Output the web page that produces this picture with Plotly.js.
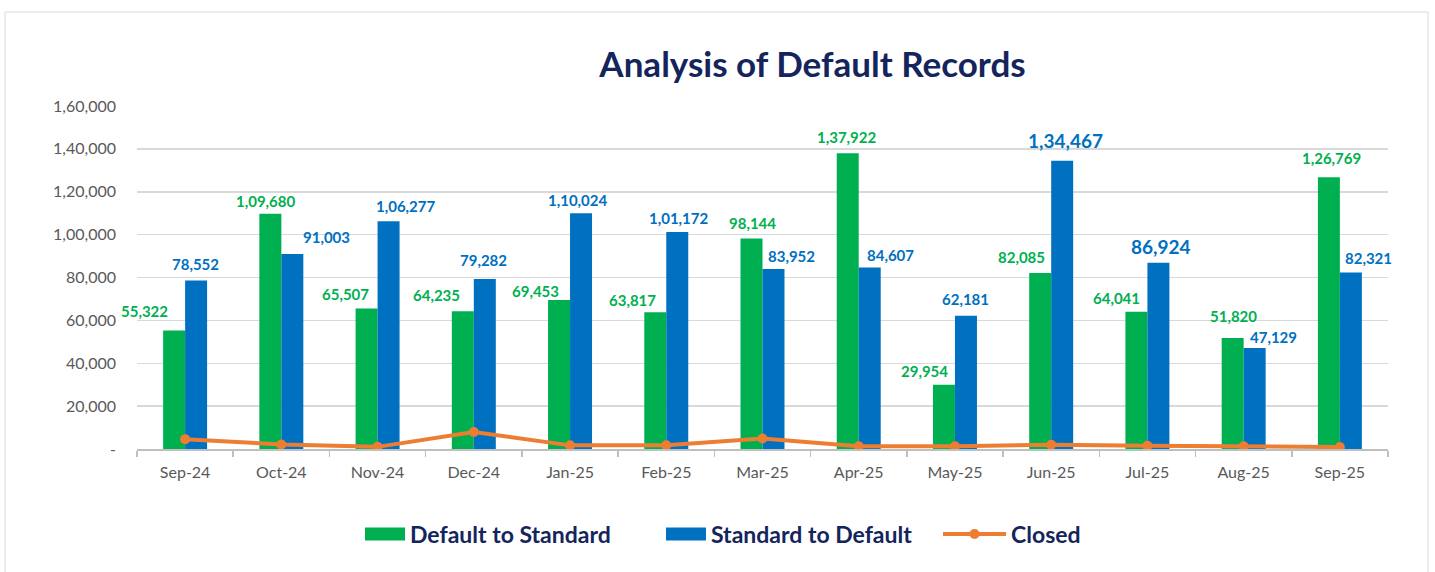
<!DOCTYPE html>
<html>
<head>
<meta charset="utf-8">
<script src="https://cdn.plot.ly/plotly-3.0.1.min.js"></script>
<style>
html,body{margin:0;padding:0;background:#fff;}
#chart{width:1435px;height:572px;}
</style>
</head>
<body>
<div id="chart"></div>
<script>
// ---- data ----
const months = ["Sep-24","Oct-24","Nov-24","Dec-24","Jan-25","Feb-25","Mar-25","Apr-25","May-25","Jun-25","Jul-25","Aug-25","Sep-25"];
const defaultToStandard = [55322,109680,65507,64235,69453,63817,98144,137922,29954,82085,64041,51820,126769];
const standardToDefault = [78552,91003,106277,79282,110024,101172,83952,84607,62181,134467,86924,47129,82321];
const closed = [4600,2100,1000,7900,1700,1700,4900,1300,1300,2000,1500,1300,900];
const yTickVals = [0,20000,40000,60000,80000,100000,120000,140000,160000];
const yTickText = ["-","20,000","40,000","60,000","80,000","1,00,000","1,20,000","1,40,000","1,60,000"];

// ---- label placement (pixel shifts from category centre / bar top) ----
const greenLabelShift = [[-41,19],[-15,13],[-32,15],[-37,16],[-35,9],[-34,12],[-10,16],[-12,16],[-30,14],[-30,16],[-31,14],[-10,22],[-8,19]];
const blueLabelShift  = [[10,17],[45,17],[28,15],[10,19],[8,13],[13,14],[29,13],[32,13],[11,17],[14,20],[14,16],[30,11],[29,15]];
const blueLabelSize   = [15,15,15,15,15,15,15,15,15,19,19,15,15];

function fmtIN(v){
  const s = String(Math.round(v));
  if (s.length <= 3) return s;
  const last3 = s.slice(-3);
  let rest = s.slice(0,-3);
  const parts = [];
  while (rest.length > 2){ parts.unshift(rest.slice(-2)); rest = rest.slice(0,-2); }
  if (rest.length) parts.unshift(rest);
  return parts.join(",") + "," + last3;
}

const GREEN = "#00b050", BLUE = "#0070c0", ORANGE = "#ed7d31";
const FONT = "Lato, 'Open Sans', sans-serif";
const NAVY = "#14245c";

const traces = [
  {type:"bar", name:"Default to Standard", x:months, y:defaultToStandard, marker:{color:GREEN}, legend:"legend"},
  {type:"bar", name:"Standard to Default", x:months, y:standardToDefault, marker:{color:BLUE}, legend:"legend2"},
  {type:"scatter", mode:"lines+markers", name:"Closed", x:months, y:closed,
   line:{color:ORANGE, width:4}, marker:{color:ORANGE, size:10}, legend:"legend3"}
];

const annotations = [];
months.forEach((m,i)=>{
  annotations.push({x:m, y:defaultToStandard[i], xref:"x", yref:"y", text:fmtIN(defaultToStandard[i]),
    showarrow:false, xanchor:"center", yanchor:"middle",
    xshift:greenLabelShift[i][0], yshift:greenLabelShift[i][1],
    font:{family:FONT, size:15, color:GREEN, weight:700}});
  annotations.push({x:m, y:standardToDefault[i], xref:"x", yref:"y", text:fmtIN(standardToDefault[i]),
    showarrow:false, xanchor:"center", yanchor:"middle",
    xshift:blueLabelShift[i][0], yshift:blueLabelShift[i][1],
    font:{family:FONT, size:blueLabelSize[i], color:BLUE, weight:700}});
});

function px2paperX(p){ return (p-137)/1251; }
const legendBase = {orientation:"h", xanchor:"left", y:-0.248, yanchor:"middle",
  font:{family:FONT, size:23, color:NAVY, weight:700}, itemwidth:40, bgcolor:"rgba(0,0,0,0)"};

const layout = {
  width:1435, height:572,
  margin:{l:137, r:47, t:106, b:123},
  paper_bgcolor:"#ffffff", plot_bgcolor:"#ffffff",
  font:{family:FONT, color:"#595959"},
  title:{text:"<b>Analysis of Default Records</b>", x:0.54, xref:"paper", xanchor:"center",
         y:0.886, yref:"container", yanchor:"middle",
         font:{family:FONT, size:35, color:NAVY}},
  barmode:"group", bargap:0.543, bargroupgap:0,
  xaxis:{type:"category", range:[-0.5,12.5], autorange:false, showgrid:false, showline:true, linecolor:"#bfbfbf", linewidth:1.5,
         ticks:"outside", tickson:"boundaries", ticklen:6, tickcolor:"#bfbfbf", tickwidth:1.5,
         ticklabelstandoff:8,
         tickfont:{family:FONT, size:16, color:"#595959"}, fixedrange:true},
  yaxis:{range:[0,160000], autorange:false, tickmode:"array", tickvals:yTickVals, ticktext:yTickText,
         showgrid:true, gridcolor:"#d9d9d9", gridwidth:1.5, zeroline:false, showline:false,
         ticks:"", ticklabelstandoff:20,
         tickfont:{family:FONT, size:16, color:"#595959"}, fixedrange:true},
  legend: Object.assign({}, legendBase, {x:px2paperX(360)}),
  legend2: Object.assign({}, legendBase, {x:px2paperX(661)}),
  legend3: Object.assign({}, legendBase, {x:px2paperX(938), itemwidth:63}),
  annotations:annotations,
  shapes:[{type:"rect", xref:"paper", yref:"paper", x0:-0.1055, x1:1.032, y0:-0.5, y1:1.274,
           line:{color:"#d9d9d9", width:1}, fillcolor:"rgba(0,0,0,0)", layer:"below"}],
  showlegend:true
};

Plotly.newPlot("chart", traces, layout, {displayModeBar:false, staticPlot:true}).then(function(gd){
  // widen the bar legend swatches to the reference's wide rectangles
  gd.querySelectorAll(".legendpoints path").forEach(function(p){
    const d = p.getAttribute("d") || "";
    if (d === "M6,6H-6V-6H6Z") p.setAttribute("d", "M20,6.5H-20V-6.5H20Z");
  });
});
</script>
</body>
</html>
